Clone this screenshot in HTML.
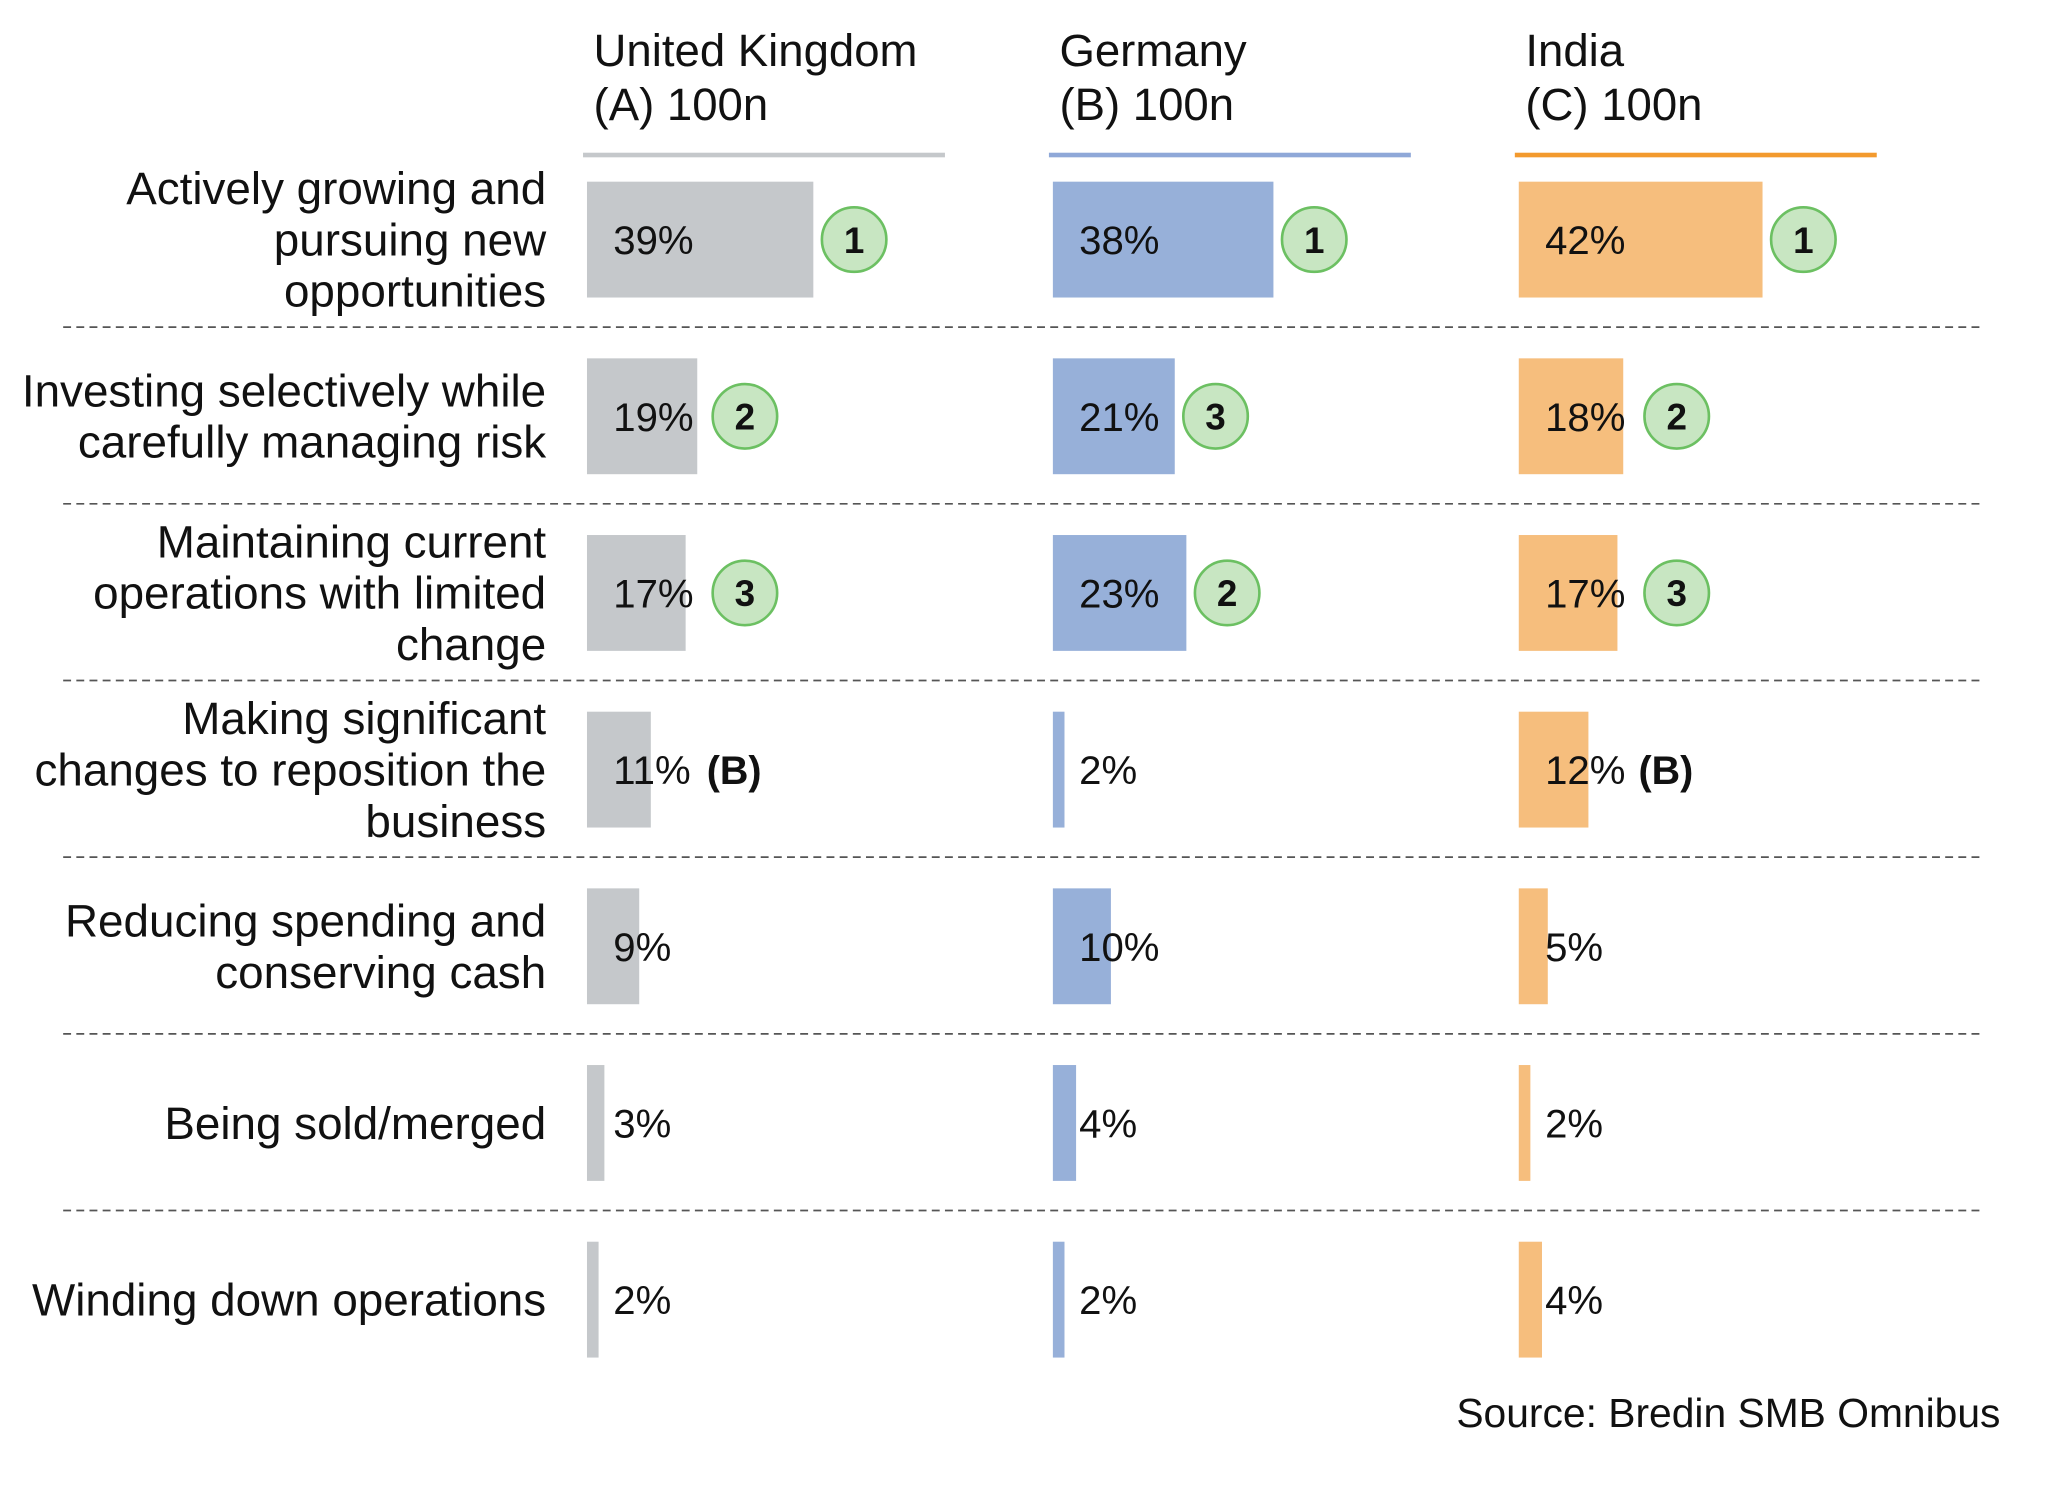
<!DOCTYPE html>
<html><head><meta charset="utf-8"><style>
html,body{margin:0;padding:0;background:#fff;}
svg{display:block;font-family:"Liberation Sans",Arial,sans-serif;}
</style></head><body>
<svg id="chart" width="2061" height="1485" viewBox="0 0 1566 1128" preserveAspectRatio="none" xmlns="http://www.w3.org/2000/svg"></svg>
<script>
const categories = [["Actively growing and","pursuing new","opportunities"],["Investing selectively while","carefully managing risk"],["Maintaining current","operations with limited","change"],["Making significant","changes to reposition the","business"],["Reducing spending and","conserving cash"],["Being sold/merged"],["Winding down operations"]];
const countries = [["United Kingdom","(A) 100n"],["Germany","(B) 100n"],["India","(C) 100n"]];
const ukValues = [39,19,17,11,9,3,2];
const deValues = [38,21,23,2,10,4,2];
const inValues = [42,18,17,12,5,2,4];
const ukRanks = [1,2,3,0,0,0,0];
const deRanks = [1,3,2,0,0,0,0];
const inRanks = [1,2,3,0,0,0,0];
const ukNotes = ["","","","(B)","","",""];
const deNotes = ["","","","","","",""];
const inNotes = ["","","","(B)","","",""];

const NS="http://www.w3.org/2000/svg";
const svg=document.getElementById('chart');
function mk(tag,attrs,parent){const e=document.createElementNS(NS,tag);for(const k in attrs)e.setAttribute(k,attrs[k]);(parent||svg).appendChild(e);return e;}
const series=[{v:ukValues,r:ukRanks,n:ukNotes,x0:446,fill:"#c5c8cb",line:"#c5c8cb",hx:443,name:"uk"},
{v:deValues,r:deRanks,n:deNotes,x0:800,fill:"#97b0d9",line:"#8fa8d8",hx:797,name:"germany"},
{v:inValues,r:inRanks,n:inNotes,x0:1154,fill:"#f6be7d",line:"#f39a2e",hx:1151,name:"india"}];
const pxPer=4.41;
function xw(v){return v*pxPer;}
function rowTop(i){return 138+i*134.2;}
const barH=88;

series.forEach((s,si)=>{
  const t=mk('text',{'font-size':34.6,fill:'#111'});
  
  
  countries[si].forEach((ln,li)=>{const ts=mk('tspan',{x:s.hx+8,y:50+li*41},t);ts.textContent=ln;});
  const l=mk('rect',{x:s.hx,y:116,width:275,height:3.5,fill:s.line});
  
  
});

categories.forEach((lines,i)=>{
  const cy=rowTop(i)+barH/2;
  const t=mk('text',{'text-anchor':'end','font-size':34.8,fill:'#111'});
  
  
  const n=lines.length;
  lines.forEach((ln,li)=>{const ts=mk('tspan',{x:415,y:cy+12+(li-(n-1)/2)*39},t);ts.textContent=ln;});
  if(i<categories.length-1){
    const d=mk('line',{x1:48,x2:1505,y1:rowTop(i)+110.5,y2:rowTop(i)+110.5,stroke:'#555','stroke-width':1.3,'stroke-dasharray':'6 4'});
    
    
  }
});

series.forEach(s=>{
  s.v.forEach((v,i)=>{
    const y=rowTop(i), cy=y+barH/2;
    const b=mk('rect',{x:s.x0,y:y,width:xw(v),height:barH,fill:s.fill});
    
    
    const lx=s.x0+20;
    const t=mk('text',{x:lx,y:cy+11,'font-size':30.5,fill:'#111'});
    t.textContent=v+'%';
    
    
    if(s.n[i]){
      const nt=mk('text',{x:lx+71,y:cy+11,'font-size':30,'font-weight':'bold',fill:'#111'});
      nt.textContent=s.n[i];
      
      
    }
    if(s.r[i]){
      const cx=Math.max(s.x0+xw(v)+31,s.x0+120);
      const c=mk('circle',{cx:cx,cy:cy,r:24.5,fill:'#c8e6c2',stroke:'#6cc062','stroke-width':2});
      
      
      const rt=mk('text',{x:cx,y:cy+10,'font-size':28,'font-weight':'bold','text-anchor':'middle',fill:'#111'});
      rt.textContent=s.r[i];
      
      
    }
  });
});

const src=mk('text',{x:1520,y:1084,'text-anchor':'end','font-size':31,fill:'#111'});
src.textContent='Source: Bredin SMB Omnibus';


</script>
</body></html>
